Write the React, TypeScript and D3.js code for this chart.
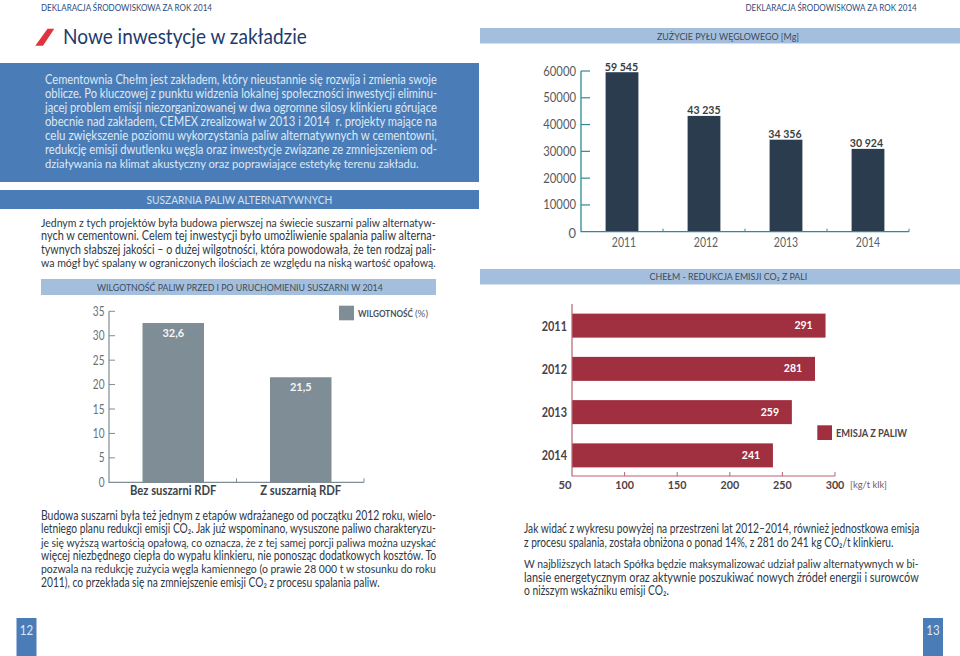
import React, { useLayoutEffect, useRef } from "react";
import * as d3 from "d3";

const F = "Lato, 'Open Sans', sans-serif";
const headerText = "DEKLARACJA ŚRODOWISKOWA ZA ROK 2014";
const titleText = "Nowe inwestycje w zakładzie";
const introLines = [
  "Cementownia Chełm jest zakładem, który nieustannie się rozwija i zmienia swoje",
  "oblicze. Po kluczowej z punktu widzenia lokalnej społeczności inwestycji eliminu-",
  "jącej problem emisji niezorganizowanej w dwa ogromne silosy klinkieru górujące",
  "obecnie nad zakładem, CEMEX zrealizował w 2013 i 2014  r. projekty mające na",
  "celu zwiększenie poziomu wykorzystania paliw alternatywnych w cementowni,",
  "redukcję emisji dwutlenku węgla oraz inwestycje związane ze zmniejszeniem od-",
  "działywania na klimat akustyczny oraz poprawiające estetykę terenu zakładu.",
];
const dryerLines = [
  "Jednym z tych projektów była budowa pierwszej na świecie suszarni paliw alternatyw-",
  "nych w cementowni. Celem tej inwestycji było umożliwienie spalania paliw alterna-",
  "tywnych słabszej jakości – o dużej wilgotności, która powodowała, że ten rodzaj pali-",
  "wa mógł być spalany w ograniczonych ilościach ze względu na niską wartość opałową.",
];
const budowaLines = [
  "Budowa suszarni była też jednym z etapów wdrażanego od początku 2012 roku, wielo-",
  "letniego planu redukcji emisji CO₂. Jak już wspominano, wysuszone paliwo charakteryzu-",
  "je się wyższą wartością opałową, co oznacza, że z tej samej porcji paliwa można uzyskać",
  "więcej niezbędnego ciepła do wypału klinkieru, nie ponosząc dodatkowych kosztów. To",
  "pozwala na redukcję zużycia węgla kamiennego (o prawie 28 000 t w stosunku do roku",
  "2011), co przekłada się na zmniejszenie emisji CO₂ z procesu spalania paliw.",
];
const concl1Lines = [
  "Jak widać z wykresu powyżej na przestrzeni lat 2012–2014, również jednostkowa emisja",
  "z procesu spalania, została obniżona o ponad 14%, z 281 do 241 kg CO₂/t klinkieru.",
];
const concl2Lines = [
  "W najbliższych latach Spółka będzie maksymalizować udział paliw alternatywnych w bi-",
  "lansie energetycznym oraz aktywnie poszukiwać nowych źródeł energii i surowców",
  "o niższym wskaźniku emisji CO₂.",
];

const moistureCategories = ["Bez suszarni RDF", "Z suszarnią RDF"];
const moistureValues = [32.6, 21.5];
const moistureLabels = ["32,6", "21,5"];
const moistureTicks = [0, 5, 10, 15, 20, 25, 30, 35];

const coalYears = ["2011", "2012", "2013", "2014"];
const coalValues = [59545, 43235, 34356, 30924];
const coalLabels = ["59 545", "43 235", "34 356", "30 924"];
const coalTicks = [0, 10000, 20000, 30000, 40000, 50000, 60000];

const emissionYears = ["2011", "2012", "2013", "2014"];
const emissionValues = [291, 281, 259, 241];
const emissionTicks = [50, 100, 150, 200, 250, 300];

// Text fitted to the width measured on the reference: scales its own glyphs horizontally.
function Fit({ x, y, w, anchor = "start", children, ...rest }: any) {
  const ref = useRef<SVGTextElement>(null);
  useLayoutEffect(() => {
    const el = ref.current!;
    const n = el.getComputedTextLength();
    const x0 = anchor === "middle" ? x - w / 2 : anchor === "end" ? x - w : x;
    el.setAttribute("transform", `translate(${x0} ${y}) scale(${w / n} 1)`);
  }, [x, y, w, anchor]);
  return (
    <text ref={ref} transform={`translate(${x} ${y})`} xmlSpace="preserve" {...rest}>{children}</text>
  );
}

function Para({ lines, x, w, y0, step, lastW, size = 12.4, fill = "#2e3844" }: any) {
  return (
    <g fontFamily={F} fontSize={size} fill={fill}>
      {lines.map((l: string, i: number) => (
        <Fit key={i} x={x} y={y0 + i * step} w={i === lines.length - 1 ? lastW : w}>{l}</Fit>
      ))}
    </g>
  );
}

function MoistureChart() {
  const x = d3.scaleBand<string>().domain(moistureCategories).range([109, 364]);
  const y = d3.scaleLinear().domain([0, 35]).range([482.3, 311.3]);
  const ax = "#7f8d95";
  return (
    <g fontFamily={F}>
      {moistureCategories.map((c, i) => {
        const cx = x(c)! + x.bandwidth() / 2 + 0.5;
        return (
          <g key={c}>
            <rect x={cx - 30.75} width={61.5} y={y(moistureValues[i])} height={y(0) - y(moistureValues[i])} fill="#7e8d96" />
            <Fit x={cx} y={y(moistureValues[i]) + 13.5} w={21.7} anchor="middle" fontSize={12} fontWeight={700} fill="#f4f6f7">{moistureLabels[i]}</Fit>
            <Fit x={cx} y={494.5} w={i ? 81 : 86.5} anchor="middle" fontSize={12.6} fontWeight={700} fill="#3c4349">{c}</Fit>
            <line x1={x(c)! + x.bandwidth()} x2={x(c)! + x.bandwidth()} y1={y(0)} y2={y(0) - 4} stroke={ax} />
          </g>
        );
      })}
      <path d={`M109 ${y(35)}V${y(0)}H364`} fill="none" stroke={ax} strokeWidth={1.2} />
      {moistureTicks.map((t) => (
        <g key={t}>
          {t > 0 && <line x1={109} x2={115} y1={y(t)} y2={y(t)} stroke={ax} />}
          <Fit x={104.5} y={y(t) + 4.5} w={5.85 * String(t).length} anchor="end" fontSize={12.6} fill="#6b7074">{t}</Fit>
        </g>
      ))}
      <rect x={339} y={305.7} width={15} height={14.6} fill="#7e8d96" />
      <Fit x={358} y={316.8} w={55} fontSize={10} fontWeight={700} fill="#4a5056">WILGOTNOŚĆ</Fit>
      <Fit x={415} y={316.8} w={13} fontSize={10} fill="#5a6066">(%)</Fit>
    </g>
  );
}

function CoalChart() {
  const x = d3.scaleBand<string>().domain(coalYears).range([581, 909]);
  const y = d3.scaleLinear().domain([0, 60000]).range([231.7, 71]);
  const ax = "#2c8b97";
  const yearX = [624, 706, 786, 868];
  const labelX = [621.5, 704, 785, 866.5];
  return (
    <g fontFamily={F}>
      {coalYears.map((c, i) => {
        const cx = x(c)! + x.bandwidth() / 2;
        return (
          <g key={c}>
            <rect x={cx - 16.4} width={32.8} y={y(coalValues[i])} height={y(0) - y(coalValues[i])} fill="#2a3c4e" />
            <Fit x={labelX[i]} y={y(coalValues[i]) - 1.5} w={33.3} anchor="middle" fontSize={11.6} fontWeight={700} fill="#3a3f44">{coalLabels[i]}</Fit>
            <Fit x={yearX[i]} y={246.5} w={24.3} anchor="middle" fontSize={12.4} fill="#5c6165">{c}</Fit>
            <line x1={x(c)! + x.bandwidth()} x2={x(c)! + x.bandwidth()} y1={y(0)} y2={y(0) - 3} stroke={ax} />
          </g>
        );
      })}
      <path d={`M581 ${y(60000)}V${y(0)}H909`} fill="none" stroke={ax} strokeWidth={1.3} />
      {coalTicks.map((t) => (
        <g key={t}>
          {t > 0 && <line x1={581} x2={590} y1={y(t)} y2={y(t)} stroke={ax} strokeWidth={1.2} />}
          <Fit x={576} y={y(t) + (t === 0 ? 6 : 4.5)} w={t === 0 ? 7.5 : 32.7} anchor="end" fontSize={t === 0 ? 13.5 : 12.6} fill="#55595d">{t}</Fit>
        </g>
      ))}
    </g>
  );
}

function EmissionChart() {
  const x = d3.scaleLinear().domain([50, 300]).range([572, 835]);
  const y = d3.scaleBand<string>().domain(emissionYears).range([304, 477]);
  const ax = "#b9636f";
  return (
    <g fontFamily={F}>
      {emissionYears.map((c, i) => {
        const cy = y(c)! + y.bandwidth() / 2;
        return (
          <g key={c}>
            <rect x={x(50)} y={cy - 12} width={x(emissionValues[i]) - x(50)} height={24} fill="#a02f40" />
            <Fit x={x(emissionValues[i]) - 22} y={cy + 3.4} w={18.3} anchor="middle" fontSize={12.2} fontWeight={700} fill="#fff">{emissionValues[i]}</Fit>
            <Fit x={567} y={cy + 5} w={25.3} anchor="end" fontSize={12.4} fontWeight={700} fill="#4a4145">{c}</Fit>
          </g>
        );
      })}
      <path d={`M572 304V476H835`} fill="none" stroke={ax} strokeWidth={1.2} />
      {emissionTicks.map((t) => (
        <g key={t}>
          {t > 50 && <line x1={x(t)} x2={x(t)} y1={476} y2={472} stroke={ax} />}
          <Fit x={x(t) - (t === 50 ? 7 : 0)} y={489} w={t === 50 ? 13 : 18.7} anchor="middle" fontSize={12.2} fontWeight={700} fill="#4f3f44">{t}</Fit>
        </g>
      ))}
      <Fit x={850} y={487.5} w={37} fontSize={9.8} fill="#7b5b62">[kg/t klk]</Fit>
      <rect x={817.3} y={425.3} width={14.7} height={14.7} fill="#a02f40" />
      <Fit x={836} y={437} w={71} fontSize={10.4} fontWeight={700} fill="#4f4347">EMISJA Z PALIW</Fit>
    </g>
  );
}

export default function App() {
  const blue = "#4a7db8";
  const light = "#a4bfdd";
  const bandInk = "#3c4a5c";
  return (
    <svg width={960} height={656} viewBox="0 0 960 656" style={{ position: "fixed", left: 0, top: 0, background: "#fff" }} fontFamily={F}>
      <g fontSize={10.2} fill="#2d4c7d">
        <Fit x={41} y={10.8} w={171}>{headerText}</Fit>
        <Fit x={745.5} y={10.8} w={171.5}>{headerText}</Fit>
      </g>
      <path d="M35.3 45.7 H43 L54.3 28.7 H47.5 Z" fill="#e0343c" />
      <Fit x={63} y={43.5} w={244} fontSize={21} fill="#1c3b6d">{titleText}</Fit>

      <rect x={0} y={63} width={479} height={119} fill={blue} />
      <Para lines={introLines} x={45} w={392} lastW={374} y0={84.3} step={13.9} fill="#dfe8f3" />

      <rect x={0} y={190} width={479} height={19} fill={blue} />
      <Fit x={239.5} y={204.3} w={186} anchor="middle" fontSize={11.8} fill="#d5e1ef">SUSZARNIA PALIW ALTERNATYWNYCH</Fit>

      <Para lines={dryerLines} x={41} w={395} lastW={395} y0={227} step={13.35} />

      <rect x={41} y={279} width={395} height={16} fill={light} />
      <Fit x={240} y={290.8} w={286} anchor="middle" fontSize={10.4} fill={bandInk}>WILGOTNOŚĆ PALIW PRZED I PO URUCHOMIENIU SUSZARNI W 2014</Fit>

      <MoistureChart />
      <Para lines={budowaLines} x={41} w={395} lastW={338.5} y0={520} step={13.3} />

      <rect x={480} y={28} width={480} height={15.5} fill={light} />
      <Fit x={728} y={39.5} w={142} anchor="middle" fontSize={10.4} fill={bandInk}>ZUŻYCIE PYŁU WĘGLOWEGO [Mg]</Fit>
      <CoalChart />

      <rect x={480} y={269} width={480} height={15.5} fill={light} />
      <Fit x={649.5} y={280.3} w={158} fontSize={10.4} fill={bandInk}>CHEŁM - REDUKCJA EMISJI CO₂ Z PALI</Fit>
      <EmissionChart />

      <Para lines={concl1Lines} x={524} w={395} lastW={369.5} y0={533} step={13.5} />
      <Para lines={concl2Lines} x={524} w={395} lastW={145} y0={568} step={13.5} />

      <rect x={16.5} y={618} width={20} height={38} fill={blue} />
      <Fit x={26.5} y={635} w={13.3} anchor="middle" fontSize={14} fill="#dfe8f3">12</Fit>
      <rect x={923} y={618} width={20} height={38} fill={blue} />
      <Fit x={933} y={635} w={13.3} anchor="middle" fontSize={14} fill="#dfe8f3">13</Fit>
    </svg>
  );
}
